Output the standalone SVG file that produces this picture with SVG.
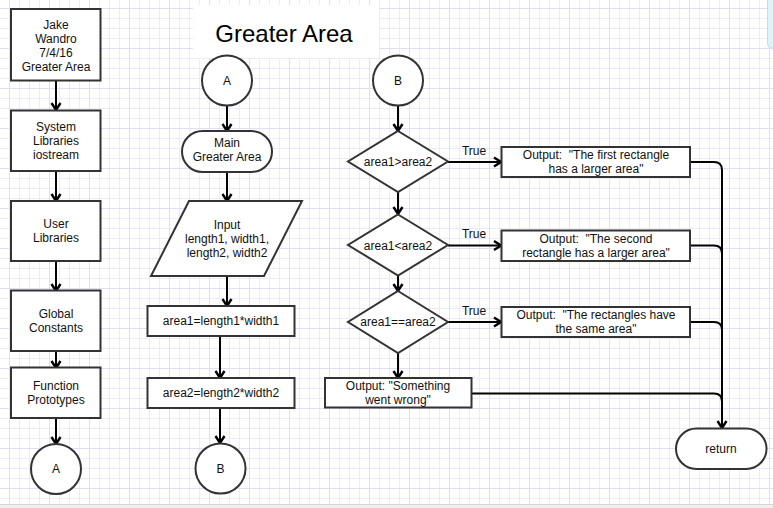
<svg xmlns="http://www.w3.org/2000/svg" width="773" height="508" viewBox="0 0 773 508">
<defs>
<pattern id="minor" x="9" y="8" width="10" height="10" patternUnits="userSpaceOnUse">
<path d="M0.5,0 V10 M0,0.5 H10" stroke="#ebebf9" stroke-width="1" fill="none"/>
</pattern>
<pattern id="major" x="9" y="8" width="40" height="40" patternUnits="userSpaceOnUse">
<path d="M0.5,0 V40 M0,0.5 H40" stroke="#e0e0f5" stroke-width="1" fill="none"/>
</pattern>
<marker id="arr" viewBox="0 0 12 12" refX="10" refY="6" markerWidth="12" markerHeight="12" markerUnits="userSpaceOnUse" orient="auto">
<path d="M3,1.5 L10,6 L3,10.5" fill="none" stroke="#000" stroke-width="2.4"/>
</marker>
<style>
.shape{fill:#fff;stroke:#333;stroke-width:2}
.t{font-family:"Liberation Sans",Arial,sans-serif;font-size:12px;fill:#111;text-anchor:middle;white-space:pre}
.conn{fill:none;stroke:#000;stroke-width:2}
</style>
</defs>
<rect width="773" height="508" fill="#fff"/>
<rect width="773" height="508" fill="url(#minor)"/>
<rect width="773" height="508" fill="url(#major)"/>
<rect x="767.5" y="-5" width="20" height="53" rx="4" fill="#dff2f8" stroke="#b5e2ee" stroke-width="1"/>
<rect x="0" y="504" width="773" height="4" fill="#f0f0f0"/>
<line x1="0" y1="504.5" x2="773" y2="504.5" stroke="#d4d4d4"/>

<g id="title">
<rect x="193" y="5" width="186" height="53" fill="#fff"/>
<text x="284" y="42" style="font-family:'Liberation Sans',Arial,sans-serif;font-size:24px;fill:#000;text-anchor:middle">Greater Area</text>
</g>

<g id="connectors">
<line class="conn" x1="56" y1="81" x2="56" y2="110" marker-end="url(#arr)"/>
<line class="conn" x1="56" y1="171" x2="56" y2="201" marker-end="url(#arr)"/>
<line class="conn" x1="56" y1="261" x2="56" y2="291" marker-end="url(#arr)"/>
<line class="conn" x1="56" y1="351" x2="56" y2="368" marker-end="url(#arr)"/>
<line class="conn" x1="56" y1="418" x2="56" y2="444" marker-end="url(#arr)"/>
<line class="conn" x1="227" y1="106" x2="227" y2="131" marker-end="url(#arr)"/>
<line class="conn" x1="227" y1="172" x2="227" y2="201" marker-end="url(#arr)"/>
<line class="conn" x1="227" y1="276" x2="227" y2="306" marker-end="url(#arr)"/>
<line class="conn" x1="220" y1="336" x2="220" y2="378" marker-end="url(#arr)"/>
<line class="conn" x1="220" y1="408" x2="220" y2="443" marker-end="url(#arr)"/>
<line class="conn" x1="398" y1="105" x2="398" y2="131" marker-end="url(#arr)"/>
<line class="conn" x1="398" y1="192" x2="398" y2="214" marker-end="url(#arr)"/>
<line class="conn" x1="398" y1="276" x2="398" y2="291" marker-end="url(#arr)"/>
<line class="conn" x1="398" y1="353" x2="398" y2="378" marker-end="url(#arr)"/>
<line class="conn" x1="448" y1="162" x2="501" y2="162" marker-end="url(#arr)"/>
<line class="conn" x1="448" y1="245.5" x2="501" y2="245.5" marker-end="url(#arr)"/>
<line class="conn" x1="448" y1="322" x2="501" y2="322" marker-end="url(#arr)"/>
<text class="t" x="474" y="155">True</text>
<text class="t" x="474" y="238">True</text>
<text class="t" x="474" y="315">True</text>
<path class="conn" d="M690,162 H714 Q722,162 722,170 V428" marker-end="url(#arr)"/>
<path class="conn" d="M690,245.5 H714 Q722,245.5 722,253.5 V428"/>
<path class="conn" d="M690,322 H714 Q722,322 722,330 V428"/>
<path class="conn" d="M472,393.5 H714 Q722,393.5 722,401.5 V428"/>
</g>

<g id="n-header">
<rect class="shape" x="11" y="9" width="89.5" height="71.5"/>
<text class="t" x="56" y="29">Jake</text>
<text class="t" x="56" y="43">Wandro</text>
<text class="t" x="56" y="57">7/4/16</text>
<text class="t" x="56" y="71">Greater Area</text>
</g>
<g id="n-syslib">
<rect class="shape" x="11" y="110.5" width="89.5" height="60.5"/>
<text class="t" x="56" y="131">System</text>
<text class="t" x="56" y="145">Libraries</text>
<text class="t" x="56" y="159">iostream</text>
</g>
<g id="n-userlib">
<rect class="shape" x="11" y="201" width="89.5" height="60"/>
<text class="t" x="56" y="228">User</text>
<text class="t" x="56" y="242">Libraries</text>
</g>
<g id="n-global">
<rect class="shape" x="11" y="290.5" width="89.5" height="60.5"/>
<text class="t" x="56" y="318">Global</text>
<text class="t" x="56" y="332">Constants</text>
</g>
<g id="n-proto">
<rect class="shape" x="11" y="367.5" width="89.5" height="50.5"/>
<text class="t" x="56" y="390">Function</text>
<text class="t" x="56" y="404">Prototypes</text>
</g>
<g id="n-A1">
<circle class="shape" cx="56" cy="469" r="25"/>
<text class="t" x="56" y="473">A</text>
</g>

<g id="n-A2">
<circle class="shape" cx="227" cy="80.5" r="25"/>
<text class="t" x="227" y="85">A</text>
</g>
<g id="n-main">
<rect class="shape" x="182" y="131" width="90" height="41" rx="20.5"/>
<text class="t" x="227" y="147">Main</text>
<text class="t" x="227" y="161">Greater Area</text>
</g>
<g id="n-input">
<polygon class="shape" points="189,201 302,201 264,276 151,276"/>
<text class="t" x="227" y="229">Input</text>
<text class="t" x="227" y="243">length1, width1,</text>
<text class="t" x="227" y="257">length2, width2</text>
</g>
<g id="n-area1">
<rect class="shape" x="147.5" y="306" width="147" height="30"/>
<text class="t" x="221" y="325">area1=length1*width1</text>
</g>
<g id="n-area2">
<rect class="shape" x="147.5" y="378" width="147" height="30"/>
<text class="t" x="221" y="397">area2=length2*width2</text>
</g>
<g id="n-B1">
<circle class="shape" cx="220.5" cy="468.5" r="25"/>
<text class="t" x="220.5" y="473">B</text>
</g>

<g id="n-B2">
<circle class="shape" cx="398" cy="80.5" r="25"/>
<text class="t" x="398" y="85">B</text>
</g>
<g id="n-d1">
<polygon class="shape" points="398,131 448,161.5 398,192 348,161.5"/>
<text class="t" x="398" y="166">area1&gt;area2</text>
</g>
<g id="n-d2">
<polygon class="shape" points="398,214.5 448,245 398,275.5 348,245"/>
<text class="t" x="398" y="249.5">area1&lt;area2</text>
</g>
<g id="n-d3">
<polygon class="shape" points="398,291 448,322 398,353 348,322"/>
<text class="t" x="398" y="326">area1==area2</text>
</g>
<g id="n-out1">
<rect class="shape" x="501.5" y="147" width="188.5" height="30"/>
<text class="t" x="596" y="159">Output:  "The first rectangle</text>
<text class="t" x="596" y="173">has a larger area"</text>
</g>
<g id="n-out2">
<rect class="shape" x="501.5" y="230.5" width="188.5" height="30.5"/>
<text class="t" x="596" y="243">Output:  "The second</text>
<text class="t" x="596" y="257">rectangle has a larger area"</text>
</g>
<g id="n-out3">
<rect class="shape" x="501.5" y="307" width="188.5" height="30"/>
<text class="t" x="596" y="318.5">Output:  "The rectangles have</text>
<text class="t" x="596" y="332.5">the same area"</text>
</g>
<g id="n-wrong">
<rect class="shape" x="325" y="378" width="146.5" height="29.5"/>
<text class="t" x="398" y="389.5">Output: "Something</text>
<text class="t" x="398" y="403.5">went wrong"</text>
</g>
<g id="n-return">
<rect class="shape" x="676" y="428.5" width="90.5" height="40.5" rx="20.25"/>
<text class="t" x="721" y="453">return</text>
</g>
</svg>
